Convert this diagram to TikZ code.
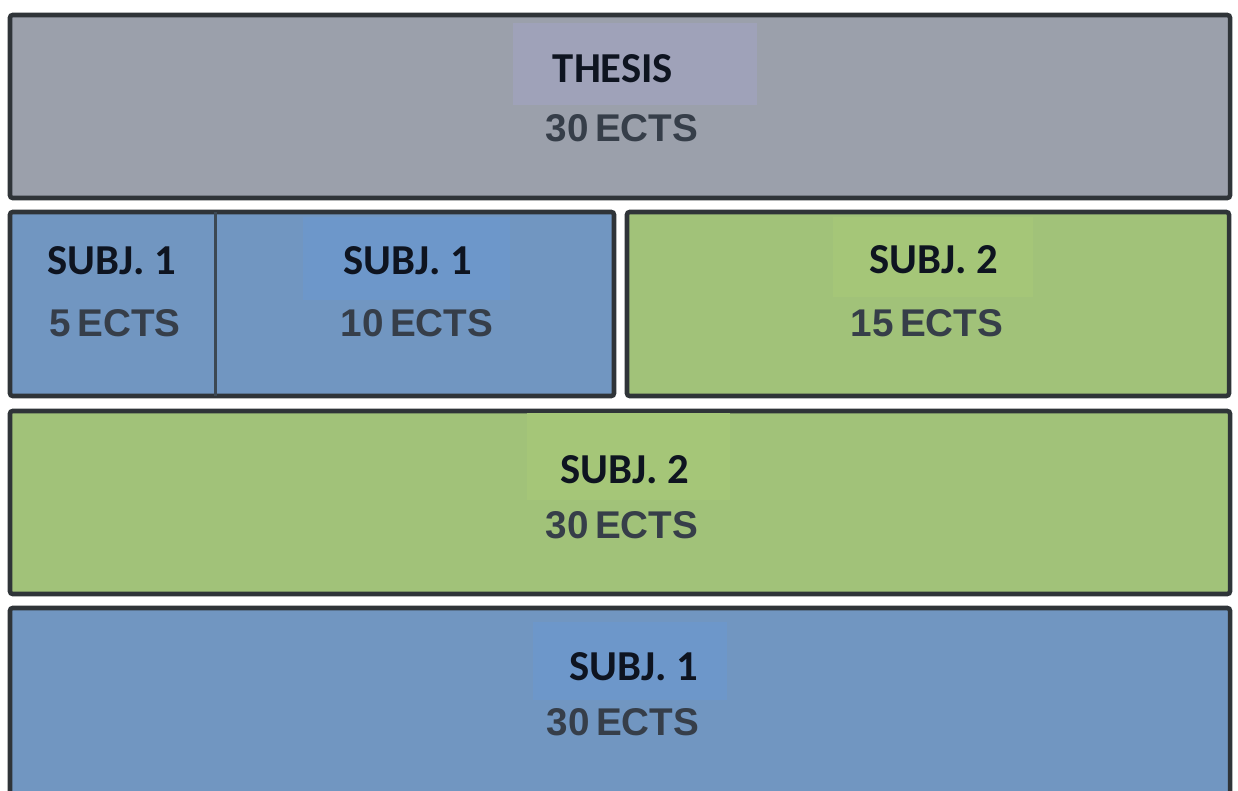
\documentclass[tikz,border=0pt]{standalone}
\usepackage{fontspec}
\usetikzlibrary{fit}
\newfontfamily\titfont{Carlito}
\newfontfamily\ectsfont{Liberation Sans}
\definecolor{borde}{HTML}{2F3438}
\definecolor{gris}{HTML}{9BA0AB}
\definecolor{grisluz}{HTML}{9FA2B9}
\definecolor{azul}{HTML}{7196C1}
\definecolor{azulluz}{HTML}{6D97CA}
\definecolor{verde}{HTML}{A1C279}
\definecolor{verdeluz}{HTML}{A5C678}
\definecolor{tinta}{HTML}{0E1420}
\definecolor{tintaects}{HTML}{363E49}
\begin{document}
\begin{tikzpicture}[x=0.75pt,y=-0.75pt,
    box/.style={draw=borde,line width=3.4pt,rounded corners=2pt,inner sep=0pt},
    titulo/.style={font=\titfont\bfseries\fontsize{32}{38}\selectfont,text=tinta,anchor=base,inner sep=0pt},
    creditos/.style={font=\ectsfont\bfseries\fontsize{29}{35}\selectfont,text=tintaects,anchor=base,inner sep=0pt}]

    \clip (0,0) rectangle (1238,791);
    \fill[white] (0,0) rectangle (1238,791);

    %Cajas
    \node[box,fill=gris,fit={(10,15) (1230,198)}] (thesis) {};
    \node[box,fill=azul,fit={(10,212) (614,396)}] (subjA) {};
    \node[box,fill=verde,fit={(627,212) (1229,396)}] (subjB) {};
    \node[box,fill=verde,fit={(10,411) (1230,594)}] (subjC) {};
    \node[box,fill=azul,fit={(10,608) (1230,800)}] (subjD) {};
    \draw[line width=2.25pt,borde!80!azul] (215,212)--(215,396);

    %Resaltes
    \fill[grisluz] (513,23) rectangle (757,105);
    \fill[azulluz] (303,217) rectangle (510,300);
    \fill[verdeluz] (833,217) rectangle (1033,297);
    \fill[verdeluz] (527,413) rectangle (730,500);
    \fill[azulluz] (533,622) rectangle (727,700);

    %Textos
    \foreach \nm/\cx/\yt/\tit/\ex/\ye/\cr in {
        thesis/613/83/THESIS/622/142/30,
        subjAa/112/275/SUBJ. 1/115/337/5,
        subjAb/408/275/SUBJ. 1/417/337/10,
        subjB/934/274/SUBJ. 2/927/337/15,
        subjC/625/483/SUBJ. 2/622/538/30,
        subjD/634/680/SUBJ. 1/623/735/30}{
        \node[titulo] (\nm-t) at (\cx,\yt) {\tit};
        \node[creditos] (\nm-c) at (\ex,\ye) {\cr\,ECTS};
    }

\end{tikzpicture}
\end{document}
